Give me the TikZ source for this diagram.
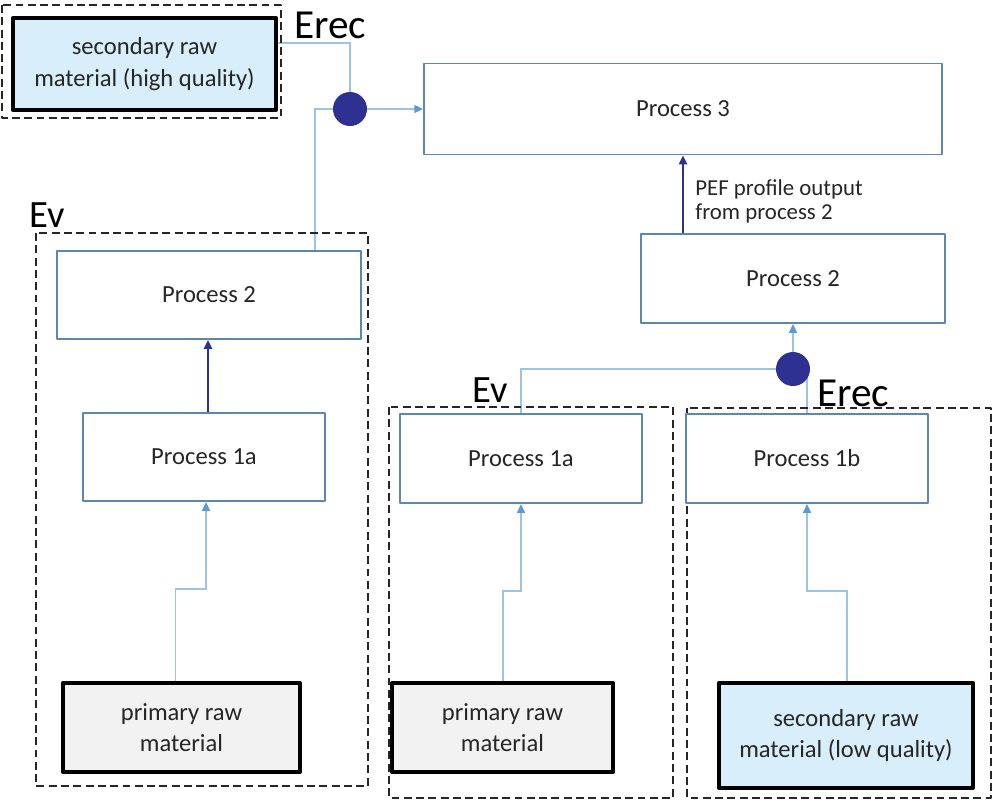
\documentclass[tikz,border=0pt]{standalone}
\usepackage{fontspec}
\setmainfont{Carlito}
\usepackage{tikz}
\usetikzlibrary{arrows.meta}
\usetikzlibrary{backgrounds}
\usetikzlibrary{calc}
\definecolor{procblue}{RGB}{91,135,181}
\definecolor{lineblue}{RGB}{157,195,230}
\definecolor{tipblue}{RGB}{91,155,213}
\definecolor{darkblue}{RGB}{46,49,146}
\definecolor{secfill}{RGB}{217,238,251}
\definecolor{primfill}{RGB}{242,242,242}
\definecolor{txtgray}{RGB}{38,38,38}
\tikzset{l/.style={font=\fontsize{14}{18}\selectfont,text=txtgray,align=center}}
\tikzset{m/.style={font=\fontsize{13}{13.5}\selectfont,text=txtgray,align=left}}
\tikzset{big/.style={font=\fontsize{22}{22}\selectfont,text=black,inner sep=0pt}}
\tikzset{proc/.style={l,draw=procblue,line width=1.1pt,fill=white,minimum height=1.78cm}}
\tikzset{raw/.style={l,draw=black,line width=2.3pt,minimum height=1.78cm}}
\tikzset{junc/.style={circle,fill=darkblue,minimum size=0.68cm,inner sep=0pt}}
\tikzset{frame/.style={draw=black!85,line width=1.4pt,dash pattern=on 4.5pt off 2.5pt}}
\tikzset{lconn/.style={draw=lineblue,line width=0.85pt}}
\tikzset{larr/.style={lconn,-{Triangle[length=5pt,width=4.5pt,color=tipblue]}}}
\tikzset{darr/.style={draw=darkblue,line width=1.1pt,-{Triangle[length=5pt,width=4.5pt]}}}

\begin{document}
\begin{tikzpicture}[x=0.02cm,y=-0.02cm,line join=round]
            \useasboundingbox (0,0) rectangle (993,802);
            % dashed frames
            \draw[frame](2,5) rectangle (281,118);
            \draw[frame](36,233) rectangle (368,786);
            \draw[frame](389,407) rectangle (673,798);
            \draw[frame](687,408) rectangle (991,798);
            % boxes
            \node[raw,fill=secfill,minimum width=5.26cm,minimum height=1.84cm] (srmh) at (144.5,64) {secondary raw\\material (high quality)};
            \node[proc,minimum width=10.36cm,minimum height=1.82cm] (p3) at (683,109) {Process 3};
            \node[proc,minimum width=6.08cm,minimum height=1.76cm] (p2l) at (209,295) {Process 2};
            \node[proc,minimum width=4.84cm,minimum height=1.76cm] (p1al) at (204,457) {Process 1a};
            \node[raw,fill=primfill,minimum width=4.74cm] (prml) at (181.5,727.5) {primary raw\\material};
            \node[proc,minimum width=6.08cm] (p2r) at (793,278.5) {Process 2};
            \node[proc,minimum width=4.84cm] (p1am) at (521,458.5) {Process 1a};
            \node[proc,minimum width=4.84cm] (p1b) at (807,458.5) {Process 1b};
            \node[raw,fill=primfill,minimum width=4.42cm] (prmm) at (502.5,727.5) {primary raw\\material};
            \node[raw,fill=secfill,minimum width=5.08cm,minimum height=2.1cm] (srml) at (846,735.5) {secondary raw\\material (low quality)};
            \node[junc] (dot1) at (350,109) {};
            \node[junc] (dot2) at (793,369) {};
            % labels
            \node[big,font=\fontsize{23.5}{23.5}\selectfont,anchor=base west] (erec1) at (294,38) {Erec};
            \node[big,anchor=base west] (ev1) at (29,227) {Ev};
            \node[big,anchor=base west] (ev2) at (472,402) {Ev};
            \node[big,font=\fontsize{23.5}{23.5}\selectfont,anchor=base west] (erec2) at (817,406) {Erec};
            % connectors
            \begin{scope}[on background layer]
            \draw[lconn] ($(srmh.east)+(0,-21)$) -| (dot1);
            \draw[lconn] ($(p2l.north)+(106,0)$) |- (dot1);
            \draw[larr] (dot1) -- (p3);
            \draw[darr] (p1al.north -| 208,0) -- (p2l.south -| 208,0);
            \draw[larr] ($(prml.north)+(-6,0)$) -- ++(0,-92) -| (p1al.south -| 206,0);
            \coordinate (pefout) at ($(p2r.north)+(-110,0)$);
            \draw[darr] (pefout) -- (pefout |- p3.south);
            \node[m,anchor=west,inner sep=0pt] (peflbl) at ($(pefout)+(12,-32)$) {PEF profile output\\from process 2};
            \draw[larr] (dot2) -- (p2r);
            \draw[lconn] (p1am.north) |- (dot2);
            \draw[lconn] (p1b.north) -- (p1b.north |- dot2);
            \draw[larr] ($(prmm.north)+(0.5,0)$) -- ++(0,-90) -| (p1am.south);
            \draw[larr] ($(srml.north)+(1,0)$) -- ++(0,-90) -| (p1b.south);
            \end{scope}
          \end{tikzpicture}
\end{document}
